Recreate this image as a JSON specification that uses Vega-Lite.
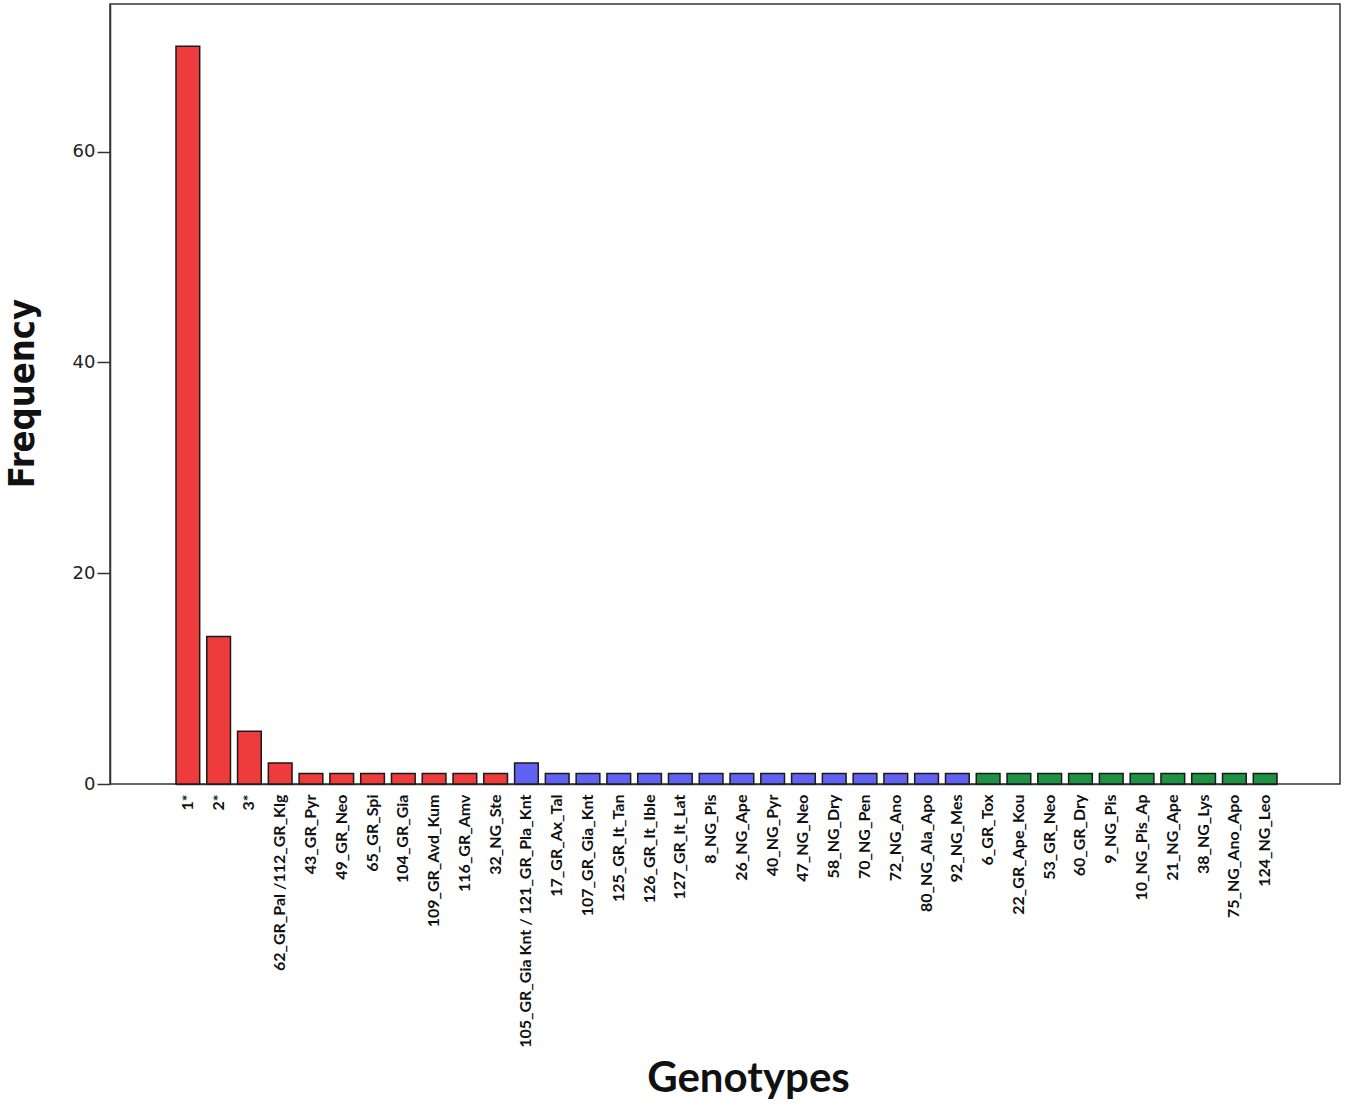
{
  "$schema": "https://vega.github.io/schema/vega-lite/v6.json",
  "autosize": {"type": "none"},
  "padding": {"left": 110, "top": 4, "right": 10, "bottom": 321},
  "width": 1230,
  "height": 780,
  "background": "white",
  "config": {
    "view": {"stroke": "#333333", "strokeWidth": 1.5}
  },
  "data": {
    "values": [
      {"genotype": "1*", "freq": 70, "group": "A"},
      {"genotype": "2*", "freq": 14, "group": "A"},
      {"genotype": "3*", "freq": 5, "group": "A"},
      {"genotype": "62_GR_Pal /112_GR_Klg", "freq": 2, "group": "A"},
      {"genotype": "43_GR_Pyr", "freq": 1, "group": "A"},
      {"genotype": "49_GR_Neo", "freq": 1, "group": "A"},
      {"genotype": "65_GR_Spi", "freq": 1, "group": "A"},
      {"genotype": "104_GR_Gia", "freq": 1, "group": "A"},
      {"genotype": "109_GR_Avd_Kum", "freq": 1, "group": "A"},
      {"genotype": "116_GR_Amv", "freq": 1, "group": "A"},
      {"genotype": "32_NG_Ste", "freq": 1, "group": "A"},
      {"genotype": "105_GR_Gia Knt / 121_GR_Pla_Knt", "freq": 2, "group": "B"},
      {"genotype": "17_GR_Ax_Tal", "freq": 1, "group": "B"},
      {"genotype": "107_GR_Gia_Knt", "freq": 1, "group": "B"},
      {"genotype": "125_GR_It_Tan", "freq": 1, "group": "B"},
      {"genotype": "126_GR_It_Ible", "freq": 1, "group": "B"},
      {"genotype": "127_GR_It_Lat", "freq": 1, "group": "B"},
      {"genotype": "8_NG_Pis", "freq": 1, "group": "B"},
      {"genotype": "26_NG_Ape", "freq": 1, "group": "B"},
      {"genotype": "40_NG_Pyr", "freq": 1, "group": "B"},
      {"genotype": "47_NG_Neo", "freq": 1, "group": "B"},
      {"genotype": "58_NG_Dry", "freq": 1, "group": "B"},
      {"genotype": "70_NG_Pen", "freq": 1, "group": "B"},
      {"genotype": "72_NG_Ano", "freq": 1, "group": "B"},
      {"genotype": "80_NG_Ala_Apo", "freq": 1, "group": "B"},
      {"genotype": "92_NG_Mes", "freq": 1, "group": "B"},
      {"genotype": "6_GR_Tox", "freq": 1, "group": "C"},
      {"genotype": "22_GR_Ape_Kou", "freq": 1, "group": "C"},
      {"genotype": "53_GR_Neo", "freq": 1, "group": "C"},
      {"genotype": "60_GR_Dry", "freq": 1, "group": "C"},
      {"genotype": "9_NG_Pis", "freq": 1, "group": "C"},
      {"genotype": "10_NG_Pis_Ap", "freq": 1, "group": "C"},
      {"genotype": "21_NG_Ape", "freq": 1, "group": "C"},
      {"genotype": "38_NG_Lys", "freq": 1, "group": "C"},
      {"genotype": "75_NG_Ano_Apo", "freq": 1, "group": "C"},
      {"genotype": "124_NG_Leo", "freq": 1, "group": "C"}
    ]
  },
  "mark": {"type": "bar", "stroke": "#1a1a1a", "strokeWidth": 1.5},
  "encoding": {
    "x": {
      "field": "genotype",
      "type": "nominal",
      "sort": null,
      "scale": {"paddingInner": 0.23, "paddingOuter": 0, "range": [66, 1167]},
      "axis": {
        "title": "Genotypes",
        "titleFont": "Lato",
        "titleFontSize": 42,
        "titleFontWeight": "bold",
        "titleColor": "#111111",
        "titleX": 638,
        "titleY": 294,
        "titleBaseline": "middle",
        "labelAngle": -90,
        "labelAlign": "right",
        "labelBaseline": "middle",
        "labelFont": "Lato",
        "labelFontWeight": "bold",
        "labelFontSize": 16,
        "labelColor": "#111111",
        "labelPadding": 10,
        "labelOverlap": false,
        "labelLimit": 400,
        "ticks": false,
        "domainColor": "#333333",
        "domainWidth": 1.5
      }
    },
    "y": {
      "field": "freq",
      "type": "quantitative",
      "scale": {"domain": [0, 74], "nice": false},
      "axis": {
        "title": "Frequency",
        "titleFont": "DejaVu Sans Condensed",
        "titleFontSize": 36,
        "titleFontWeight": "bold",
        "titleColor": "#111111",
        "titleX": -88,
        "titleY": 389,
        "titleAngle": -90,
        "titleAlign": "center",
        "titleBaseline": "middle",
        "values": [0, 20, 40, 60],
        "grid": false,
        "labelFont": "DejaVu Sans",
        "labelFontSize": 18,
        "labelColor": "#222222",
        "labelPadding": 2,
        "tickSize": 13,
        "tickColor": "#333333",
        "tickWidth": 1.5,
        "domainColor": "#333333",
        "domainWidth": 1.5
      }
    },
    "color": {
      "field": "group",
      "type": "nominal",
      "scale": {"domain": ["A", "B", "C"], "range": ["#EE3B3B", "#6262F2", "#1E9142"]},
      "legend": null
    }
  }
}
